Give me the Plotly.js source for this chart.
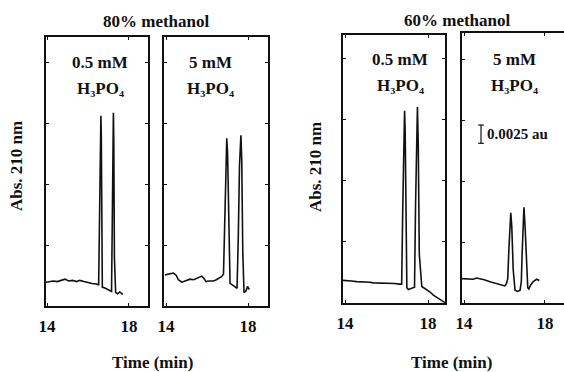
<!DOCTYPE html>
<html><head><meta charset="utf-8">
<script src="https://cdn.plot.ly/plotly-3.0.1.min.js"></script>
<style>
html,body{margin:0;padding:0;background:#fff}
</style>
</head><body><div id="chart" style="width:564px;height:372px"></div>
<script>
// Panel titles and labels
const groupTitles = ["80% methanol", "60% methanol"];
const concLabels = ["0.5 mM", "5 mM", "0.5 mM", "5 mM"];
const acidLabel = "H\u2083PO\u2084";
const yTitle = "Abs. 210 nm";
const xTitle = "Time (min)";
const xTickVals = [14, 18];
const xTickText = ["14", "18"];

// Panel 1: 80% methanol, 0.5 mM H3PO4
const timeA = [13.95,14.1,14.3,14.5,14.7,14.88,15.05,15.25,15.45,15.6,15.8,16.0,16.2,16.4,16.52,16.57,16.6,16.63,16.65,16.67,16.7,16.85,17.0,17.15,17.19,17.22,17.24,17.26,17.29,17.35,17.45,17.55,17.7];
const absA  = [0.39,0.40,0.41,0.40,0.42,0.44,0.41,0.42,0.40,0.42,0.40,0.38,0.37,0.36,0.35,1.6,2.9,3.12,2.8,1.2,0.31,0.29,0.27,0.24,1.5,2.9,3.17,2.7,0.8,0.22,0.20,0.23,0.19];

// Panel 2: 80% methanol, 5 mM H3PO4
const timeB = [13.95,14.15,14.36,14.5,14.6,14.77,14.95,15.17,15.35,15.5,15.62,15.74,15.85,15.95,16.1,16.31,16.45,16.55,16.7,16.8,16.86,16.92,16.96,17.0,17.06,17.12,17.3,17.46,17.52,17.58,17.65,17.69,17.74,17.8,17.9,17.97,18.06];
const absB  = [0.51,0.52,0.54,0.50,0.43,0.39,0.41,0.44,0.43,0.45,0.47,0.49,0.45,0.40,0.41,0.41,0.43,0.45,0.48,0.52,1.5,2.5,2.75,2.5,1.2,0.37,0.33,0.29,1.1,2.3,2.8,2.4,0.9,0.22,0.25,0.32,0.27];

// Panel 3: 60% methanol, 0.5 mM H3PO4
const timeC = [13.9,14.0,14.3,14.56,14.9,15.2,15.36,15.7,16.0,16.2,16.4,16.6,16.73,16.78,16.83,16.87,16.9,16.94,16.98,17.05,17.2,17.35,17.4,17.45,17.49,17.53,17.58,17.7,17.94,18.1,18.26,18.4,18.58,18.72,18.85];
const absC  = [0.37,0.37,0.36,0.35,0.35,0.34,0.33,0.33,0.32,0.33,0.32,0.31,0.31,1.5,2.9,3.15,2.8,1.0,0.25,0.22,0.24,0.26,1.6,2.9,3.21,2.6,0.8,0.27,0.22,0.18,0.13,0.10,0.06,0.03,0.0];

// Panel 4: 60% methanol, 5 mM H3PO4
const timeD = [13.9,14.0,14.2,14.46,14.62,14.79,15.0,15.28,15.5,15.78,16.02,16.1,16.16,16.22,16.27,16.31,16.36,16.43,16.52,16.65,16.77,16.83,16.87,16.92,16.96,17.01,17.08,17.15,17.2,17.3,17.42,17.59,17.72];
const absD  = [0.40,0.40,0.39,0.39,0.41,0.40,0.38,0.35,0.33,0.31,0.28,0.32,0.40,0.9,1.3,1.48,1.25,0.55,0.21,0.19,0.21,0.35,0.8,1.35,1.57,1.3,0.6,0.25,0.23,0.30,0.35,0.39,0.37];

// Scale bar (0.0025 au) in panel 4
const scaleBarTime = 14.84;
const scaleBarCap = 0.14;
const scaleBarLow = 2.62;
const scaleBarHigh = 2.92;
const scaleBarText = "0.0025 au";

const serif = "Liberation Serif, Times New Roman, serif";
const lineStyle = {color: "#111", width: 1.6};

const series = [[timeA, absA], [timeB, absB], [timeC, absC], [timeD, absD]];
const traces = series.map((s, i) => ({
  x: s[0], y: s[1], type: "scatter", mode: "lines", line: lineStyle,
  xaxis: i === 0 ? "x" : "x" + (i + 1), yaxis: i === 0 ? "y" : "y" + (i + 1),
  hoverinfo: "skip"
}));
traces.push({
  x: [scaleBarTime - scaleBarCap, scaleBarTime + scaleBarCap, null, scaleBarTime, scaleBarTime, null, scaleBarTime - scaleBarCap, scaleBarTime + scaleBarCap],
  y: [scaleBarHigh, scaleBarHigh, null, scaleBarHigh, scaleBarLow, null, scaleBarLow, scaleBarLow],
  type: "scatter", mode: "lines", line: {color: "#111", width: 1.2},
  xaxis: "x4", yaxis: "y4", hoverinfo: "skip"
});

const W = 564, H = 372;
// panel pixel boxes [left, right, top, bottom]
const boxes = [[46, 148, 37, 306], [164, 268, 37, 306], [343, 445, 35, 303], [462, 564, 33, 303]];
const xRanges = [[13.95, 18.93], [13.9, 18.97], [13.9, 18.82], [13.9, 18.94]];
const yTops = [4.41, 4.41, 4.39, 4.43];

const layout = {
  width: W, height: H, margin: {l: 0, r: 0, t: 0, b: 0},
  paper_bgcolor: "#fff", plot_bgcolor: "#fff", showlegend: false,
  font: {family: serif, color: "#111", size: 17},
  annotations: []
};
boxes.forEach((b, i) => {
  const sfx = i === 0 ? "" : String(i + 1);
  layout["xaxis" + sfx] = {
    domain: [b[0] / W, b[1] / W], range: xRanges[i], anchor: "y" + sfx,
    showline: true, linecolor: "#111", linewidth: 1.6, mirror: "ticks",
    ticks: "inside", ticklen: 3, tickcolor: "#111", tickvals: xTickVals, ticktext: xTickText,
    tickfont: {family: serif, size: 17, weight: "bold", color: "#111"},
    ticklabelstandoff: 4,
    showgrid: false, zeroline: false, fixedrange: true
  };
  layout["yaxis" + sfx] = {
    domain: [1 - b[3] / H, 1 - b[2] / H], range: [0, yTops[i]], anchor: "x" + sfx,
    showline: true, linecolor: "#111", linewidth: 1.6, mirror: i === 3 ? false : "ticks",
    ticks: "", showticklabels: false, tick0: 0, dtick: 10,
    minor: {tick0: 0, dtick: 1, ticks: "inside", ticklen: 3, tickcolor: "#111", showgrid: false},
    showgrid: false, zeroline: false, fixedrange: true
  };
});

function ann(text, x, y, size, opts) {
  return Object.assign({
    text: text, x: x / W, y: 1 - y / H, xref: "paper", yref: "paper",
    xanchor: "center", yanchor: "middle", showarrow: false,
    font: {family: serif, size: size, weight: "bold", color: "#111"}
  }, opts || {});
}
const A = layout.annotations;
A.push(ann(groupTitles[0], 156, 22, 17));
A.push(ann(groupTitles[1], 457, 21, 17));
const labelX = [100, 210, 400, 514];
const labelY = [63, 63, 60, 60];
concLabels.forEach((t, i) => {
  A.push(ann(t, labelX[i], labelY[i], 17));
  A.push(ann(acidLabel, labelX[i], labelY[i] + 25, 17));
});
A.push(Object.assign(ann(scaleBarText, 0, 0, 15), {
  x: scaleBarTime + 0.2, y: (scaleBarLow + scaleBarHigh) / 2, xref: "x4", yref: "y4", xanchor: "left"
}));
A.push(ann(yTitle, 16, 166, 17, {textangle: -90}));
A.push(ann(yTitle, 315, 167, 17, {textangle: -90}));
A.push(ann(xTitle, 152, 362, 17));
A.push(ann(xTitle, 451, 362, 17));

Plotly.newPlot("chart", traces, layout, {staticPlot: true, displayModeBar: false});
</script>
</body></html>
